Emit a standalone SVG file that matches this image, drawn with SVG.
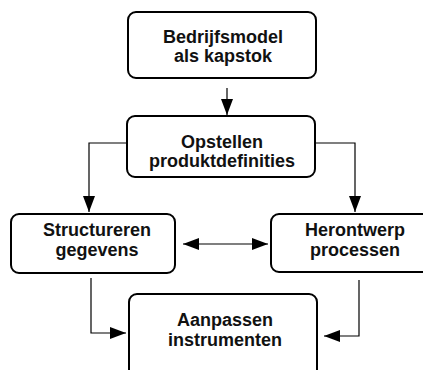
<svg xmlns="http://www.w3.org/2000/svg" width="423" height="370" viewBox="0 0 423 370">
<defs>
<style>
.box{fill:#fff;stroke:#000;stroke-width:2}
.t{font-family:"Liberation Sans",Arial,sans-serif;font-weight:bold;font-size:18px;text-anchor:middle;fill:#111}
.c{fill:none;stroke:#000;stroke-width:1.2}
</style>
<marker id="ah" viewBox="0 0 16 12" refX="16" refY="6" markerWidth="16" markerHeight="12" markerUnits="userSpaceOnUse" orient="auto-start-reverse">
<path d="M0,0 L16,6 L0,12 Z" fill="#000"/>
</marker>
</defs>
<rect width="423" height="370" fill="#fff"/>
<g id="connectors">
<line class="c" x1="227" y1="88" x2="227" y2="115" marker-end="url(#ah)"/>
<polyline class="c" points="127,143 89,143 89,212" marker-end="url(#ah)"/>
<polyline class="c" points="315,143 355,143 355,212" marker-end="url(#ah)"/>
<line class="c" x1="183" y1="244" x2="268" y2="244" marker-start="url(#ah)" marker-end="url(#ah)"/>
<polyline class="c" points="91,278 91,333 126,333" marker-end="url(#ah)"/>
<polyline class="c" points="359,280 359,336 324,336" marker-end="url(#ah)"/>
</g>
<g id="n1">
<rect class="box" x="128" y="12" width="188" height="66" rx="8"/>
<text class="t" x="223" y="43">Bedrijfsmodel</text>
<text class="t" x="223" y="62">als kapstok</text>
</g>
<g id="n2">
<rect class="box" x="127" y="116" width="188" height="61" rx="8"/>
<text class="t" x="222" y="148">Opstellen</text>
<text class="t" x="222" y="167">produktdefinities</text>
</g>
<g id="n3">
<rect class="box" x="11" y="214" width="164" height="59" rx="8"/>
<text class="t" x="97" y="236">Structureren</text>
<text class="t" x="97" y="256">gegevens</text>
</g>
<g id="n4">
<rect class="box" x="271" y="214" width="170" height="58" rx="8"/>
<text class="t" x="355" y="236">Herontwerp</text>
<text class="t" x="355" y="256">processen</text>
</g>
<g id="n5">
<rect class="box" x="129" y="294" width="188" height="90" rx="8"/>
<text class="t" x="225" y="326">Aanpassen</text>
<text class="t" x="225" y="346">instrumenten</text>
</g>
</svg>
